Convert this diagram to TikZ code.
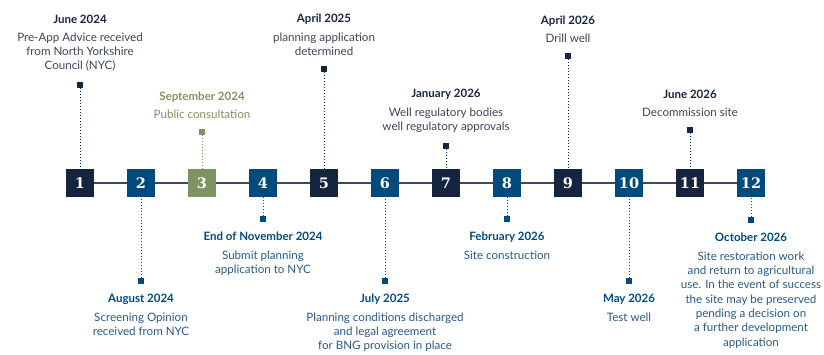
\documentclass[tikz,border=0pt]{standalone}
\usepackage{fontspec}
\setmainfont{Lato}
\newfontfamily\numfont{DejaVu Serif}
\usetikzlibrary{positioning}

\definecolor{tlnavy}{HTML}{15243F}
\definecolor{tlblue}{HTML}{004A7C}
\definecolor{tlgreen}{HTML}{7E9460}
\definecolor{tlline}{HTML}{3C4A63}
\definecolor{tlnavytext}{HTML}{3D4459}
\definecolor{tlbluetext}{HTML}{2A5A88}

\newcommand{\ttl}[1]{{\fontsize{11.5}{14.3}\selectfont\bfseries #1}}

\begin{document}
\begin{tikzpicture}[x=1pt,y=-1pt,
	numbox/.style={minimum size=28pt,inner sep=0pt,text=white,
		font=\numfont\bfseries\fontsize{14.5}{14.5}\selectfont},
	navybox/.style={numbox,fill=tlnavy},
	bluebox/.style={numbox,fill=tlblue},
	greenbox/.style={numbox,fill=tlgreen},
	navysq/.style={fill=tlnavy,minimum size=6pt,inner sep=0pt},
	bluesq/.style={fill=tlblue,minimum size=6pt,inner sep=0pt},
	greensq/.style={fill=tlgreen,minimum size=6pt,inner sep=0pt},
	navystem/.style={draw=tlnavy,dotted,line width=1pt},
	bluestem/.style={draw=tlblue,dotted,line width=1pt},
	greenstem/.style={draw=tlgreen,dotted,line width=1pt},
	lbl/.style={align=center,inner sep=0pt,font=\fontsize{11.6}{14.3}\selectfont},
	toplbl/.style={lbl,above=10pt of #1,text=tlnavytext},
	botlbl/.style={lbl,below=10pt of #1,text=tlbluetext},
	axis/.style={draw=tlline,line width=1.6pt}]
	\useasboundingbox (0,0) rectangle (824,354);
	% numbered boxes
	\node[navybox] (b1) at (80,183) {1};
	\node[bluebox] (b2) at (141,183) {2};
	\node[greenbox] (b3) at (202,183) {3};
	\node[bluebox] (b4) at (263,183) {4};
	\node[navybox] (b5) at (324,183) {5};
	\node[bluebox] (b6) at (385,183) {6};
	\node[navybox] (b7) at (446,183) {7};
	\node[bluebox] (b8) at (507,183) {8};
	\node[navybox] (b9) at (568,183) {9};
	\node[bluebox] (b10) at (629,183) {10};
	\node[navybox] (b11) at (690,183) {11};
	\node[bluebox] (b12) at (751,183) {12};
	\draw[axis] (b1) -- (b2) -- (b3) -- (b4) -- (b5) -- (b6) -- (b7) -- (b8)
		-- (b9) -- (b10) -- (b11) -- (b12);
	% markers
	\node[navysq] (m1) at (80,85) {};
	\node[bluesq] (m2) at (141,281) {};
	\node[greensq] (m3) at (202,132) {};
	\node[bluesq] (m4) at (263,219) {};
	\node[navysq] (m5) at (324,69) {};
	\node[bluesq] (m6) at (385,281) {};
	\node[navysq] (m7) at (446,146) {};
	\node[bluesq] (m8) at (507,219) {};
	\node[navysq] (m9) at (568,56) {};
	\node[bluesq] (m10) at (629,281) {};
	\node[navysq] (m11) at (690,130) {};
	\node[bluesq] (m12) at (751,220) {};
	% stems
	\draw[navystem] (m1) -- (b1);
	\draw[bluestem] (m2) -- (b2);
	\draw[greenstem] (m3) -- (b3);
	\draw[bluestem] (m4) -- (b4);
	\draw[navystem] (m5) -- (b5);
	\draw[bluestem] (m6) -- (b6);
	\draw[navystem] (m7) -- (b7);
	\draw[bluestem] (m8) -- (b8);
	\draw[navystem] (m9) -- (b9);
	\draw[bluestem] (m10) -- (b10);
	\draw[navystem] (m11) -- (b11);
	\draw[bluestem] (m12) -- (b12);
	% labels above
	\node[toplbl=m1] (t1) {\textcolor{tlnavy}{\ttl{June 2024}}\\[4pt]
		Pre-App Advice received\\from North Yorkshire\\Council (NYC)};
	\node[toplbl=m3,text=tlgreen] (t3) {\ttl{September 2024}\\[4pt]
		Public consultation};
	\node[toplbl=m5] (t5) {\textcolor{tlnavy}{\ttl{April 2025}}\\[4pt]
		planning application\\determined};
	\node[toplbl=m7] (t7) {\textcolor{tlnavy}{\ttl{January 2026}}\\[4pt]
		Well regulatory bodies\\well regulatory approvals};
	\node[toplbl=m9] (t9) {\textcolor{tlnavy}{\ttl{April 2026}}\\[4pt]
		Drill well};
	\node[toplbl=m11] (t11) {\textcolor{tlnavy}{\ttl{June 2026}}\\[4pt]
		Decommission site};
	% labels below
	\node[botlbl=m2] (t2) {\textcolor{tlblue}{\ttl{August 2024}}\\[4pt]
		Screening Opinion\\received from NYC};
	\node[botlbl=m4] (t4) {\textcolor{tlblue}{\ttl{End of November 2024}}\\[4pt]
		Submit planning\\application to NYC};
	\node[botlbl=m6] (t6) {\textcolor{tlblue}{\ttl{July 2025}}\\[4pt]
		Planning conditions discharged\\and legal agreement\\for BNG provision in place};
	\node[botlbl=m8] (t8) {\textcolor{tlblue}{\ttl{February 2026}}\\[4pt]
		Site construction};
	\node[botlbl=m10] (t10) {\textcolor{tlblue}{\ttl{May 2026}}\\[4pt]
		Test well};
	\node[botlbl=m12] (t12) {\textcolor{tlblue}{\ttl{October 2026}}\\[4pt]
		Site restoration work\\and return to agricultural\\use. In the event of success\\the site may be preserved\\pending a decision on\\a further development\\application};
\end{tikzpicture}
\end{document}
